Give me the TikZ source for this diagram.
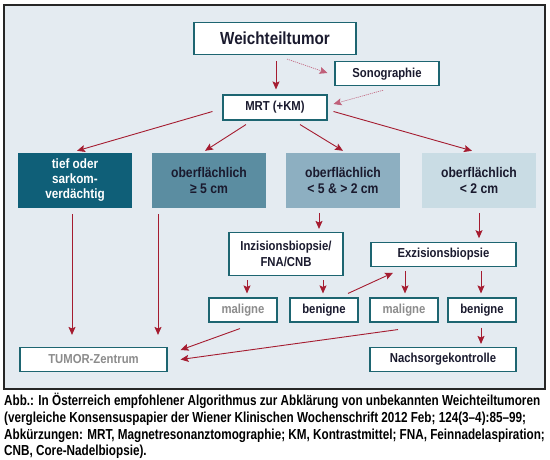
\documentclass[tikz,border=0pt]{standalone}
\usepackage{fontspec}
\setmainfont{Liberation Sans}[FakeStretch=0.87]
\newfontfamily\capfont{Liberation Sans}[FakeStretch=0.808]
\usetikzlibrary{calc,arrows.meta}
\definecolor{framebg}{HTML}{E4EBF1}
\definecolor{boxline}{HTML}{1D6571}
\definecolor{arrowred}{HTML}{A51C30}
\definecolor{dotred}{HTML}{C0607A}
\definecolor{qa}{HTML}{0F5F78}
\definecolor{qb}{HTML}{5B8DA1}
\definecolor{qc}{HTML}{8DAFC1}
\definecolor{qd}{HTML}{C9DCE4}
\definecolor{txt}{HTML}{1A1A2E}
\definecolor{greytxt}{HTML}{8C8C8C}
\begin{document}
\begin{tikzpicture}[x=1pt,y=-1pt,
  box/.style={draw=boxline, line width=1.1pt, fill=white, inner sep=0pt, align=center,
    font=\bfseries\fontsize{13}{15}\selectfont, text=txt},
  quad/.style={draw=none, inner sep=0pt, minimum width=114pt, minimum height=55pt, align=center,
    font=\bfseries\fontsize{14}{16.5}\selectfont, text=txt},
  arr/.style={draw=arrowred, line width=0.9pt, -{Stealth[length=8pt,width=7pt,inset=1.5pt]}},
  dots/.style={draw=dotred, line width=0.6pt, dash pattern=on 1.2pt off 0.9pt, -{Stealth[length=8pt,width=7pt,inset=1.5pt]}}
]
\useasboundingbox (0,0) rectangle (550,460);
\fill[white] (0,0) rectangle (550,460);
\draw[line width=1.3pt, draw=black!85, fill=framebg] (4,5) rectangle (545,389);

% nodes
\node[box, minimum width=162pt, minimum height=32pt, font=\bfseries\fontsize{17.5}{20}\selectfont] (wt) at (275,38.5) {Weichteiltumor};
\node[box, minimum width=104pt, minimum height=24pt] (sono) at (387,73.7) {Sonographie};
\node[box, minimum width=104pt, minimum height=25pt] (mrt) at (275,107.5) {MRT (+KM)};

\node[quad, fill=qa, text=white, font=\bfseries\fontsize{13.5}{15}\selectfont] (b1) at (75,180.5) {tief oder\\sarkom-\\verdächtig};
\node[quad, fill=qb] (b2) at (209,180.5) {oberflächlich\\≥ 5 cm};
\node[quad, fill=qc] (b3) at (343,180.5) {oberflächlich\\< 5 \& > 2 cm};
\node[quad, fill=qd] (b4) at (479,180.5) {oberflächlich\\< 2 cm};

\node[box, minimum width=114pt, minimum height=43pt, font=\bfseries\fontsize{13}{16}\selectfont] (inz) at (286,254) {Inzisionsbiopsie/\\FNA/CNB};
\node[box, minimum width=145pt, minimum height=23.5pt] (exz) at (443.5,254.5) {Exzisionsbiopsie};

\node[box, minimum width=68pt, minimum height=24pt, text=greytxt] (m1) at (243,310) {maligne};
\node[box, minimum width=68pt, minimum height=24pt] (be1) at (324,310) {benigne};
\node[box, minimum width=68pt, minimum height=24pt, text=greytxt] (m2) at (404,310) {maligne};
\node[box, minimum width=68pt, minimum height=24pt] (be2) at (482,310) {benigne};

\node[box, minimum width=147pt, minimum height=24pt, text=greytxt] (tz) at (93.5,359.5) {TUMOR-Zentrum};
\node[box, minimum width=146pt, minimum height=24pt] (ns) at (443,359.5) {Nachsorgekontrolle};

% caption
\node[anchor=north west, inner sep=0pt, align=left, text=black,
  font=\capfont\bfseries\fontsize{14.5}{16.8}\selectfont] (cap) at (4,393)
  {Abb.: In Österreich empfohlener Algorithmus zur Abklärung von unbekannten Weichteiltumoren\\
   (vergleiche Konsensuspapier der Wiener Klinischen Wochenschrift 2012 Feb; 124(3–4):85–99;\\
   Abkürzungen: MRT, Magnetresonanztomographie; KM, Kontrastmittel; FNA, Feinnadelaspiration;\\
   CNB, Core-Nadelbiopsie).};

% connectors
\draw[arr] ($(wt.south)+(1,6)$) -- ($(mrt.north)+(1,-5)$);
\draw[dots] ($(wt.south)+(12,4)$) -- ($(sono.west)+(-7,-0.7)$);
\draw[dots] ($(sono.south)+(-4,4)$) -- ($(mrt.east)+(6,-3.5)$);

\draw[arr] ($(mrt.west)+(-10,4)$) -- ($(b1.north)+(2,-2)$);
\draw[arr] ($(mrt.south)+(-29,4)$) -- ($(b2.north)+(-4,-2)$);
\draw[arr] ($(mrt.south)+(25,4)$) -- ($(b3.north)+(0,-2)$);
\draw[arr] ($(mrt.east)+(6,4)$) -- ($(b4.north)+(-7,-2)$);

\draw[arr] ($(b1.south)+(-3,6)$) -- ($(b1.south |- tz.north)+(-3,-12)$);
\draw[arr] ($(b2.south)+(-51,6)$) -- ($(b2.south |- tz.north)+(-51,-12)$);
\draw[arr] ($(b3.south)+(-24,5)$) -- ($(b3.south |- inz.north)+(-24,-3)$);
\draw[arr] ($(b4.south)+(0,5)$) -- ($(b4.south |- exz.north)+(0,-4)$);

\draw[arr] ($(inz.south)+(-39,4)$) -- ($(inz.south |- m1.north)+(-39,-4)$);
\draw[arr] ($(inz.south)+(37,4)$) -- ($(inz.south |- be1.north)+(37,-4)$);
\draw[arr] ($(exz.south)+(-38.5,4)$) -- ($(exz.south |- m2.north)+(-38.5,-4)$);
\draw[arr] ($(exz.south)+(37.5,4)$) -- ($(exz.south |- be2.north)+(37.5,-4)$);

\draw[arr] ($(be1.north)+(24,-4)$) -- ($(exz.south)+(-50.5,6)$);
\draw[arr] ($(m1.south)+(-3,6)$) -- ($(tz.east)+(13,-9.5)$);
\draw[arr] ($(m2.south)+(-6,7)$) -- ($(tz.east)+(13,0)$);
\draw[arr] ($(be2.south)+(-1,5)$) -- ($(be2.south |- ns.north)+(-1,-3)$);
\end{tikzpicture}
\end{document}
